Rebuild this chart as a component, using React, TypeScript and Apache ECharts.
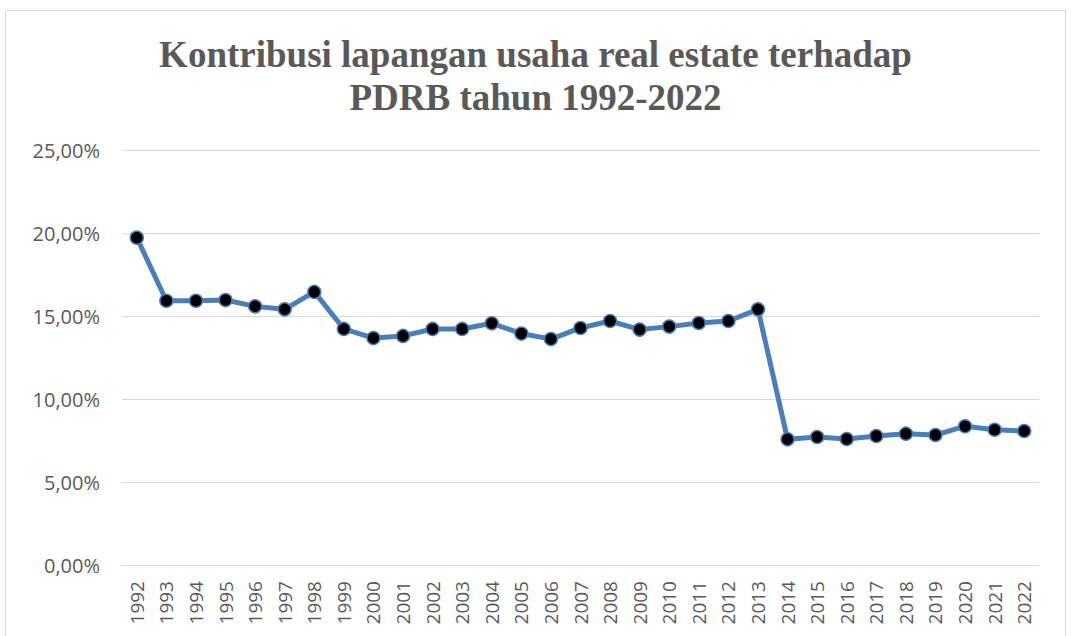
import React, { useEffect, useRef } from "react";
import * as echarts from "echarts";

const years = ["1992","1993","1994","1995","1996","1997","1998","1999","2000","2001","2002","2003","2004","2005","2006","2007","2008","2009","2010","2011","2012","2013","2014","2015","2016","2017","2018","2019","2020","2021","2022"];
const contribution = [19.72,15.92,15.92,15.96,15.58,15.40,16.45,14.22,13.67,13.80,14.22,14.22,14.56,13.94,13.61,14.28,14.70,14.18,14.36,14.58,14.70,15.40,7.57,7.71,7.59,7.77,7.91,7.83,8.36,8.15,8.07];
const titleText = "Kontribusi lapangan usaha real estate terhadap\nPDRB tahun 1992-2022";

export default function App() {
  const ref = useRef<HTMLDivElement>(null);
  useEffect(() => {
    if (!ref.current) return;
    const chart = echarts.init(ref.current, null, { renderer: "svg" });
    chart.setOption({
      animation: false,
      backgroundColor: "#ffffff",
      title: {
        text: titleText,
        left: "center",
        top: 28,
        textStyle: {
          fontFamily: "Liberation Serif",
          fontWeight: "bold",
          fontSize: 37,
          color: "#595959",
          lineHeight: 43,
        },
      },
      graphic: [
        {
          type: "rect",
          shape: { x: 5.5, y: 10.5, width: 1060, height: 640 },
          style: { fill: "none", stroke: "#d9d9d9", lineWidth: 1 },
          silent: true,
        },
      ],
      grid: { left: 122, right: 32, top: 150, bottom: 71 },
      xAxis: {
        type: "category",
        data: years,
        boundaryGap: true,
        axisLine: { show: true, lineStyle: { color: "#d9d9d9", width: 1 } },
        axisTick: { show: false },
        axisLabel: {
          rotate: 90,
          interval: 0,
          margin: 16,
          fontFamily: "Open Sans",
          fontSize: 19,
          color: "#595959",
        },
      },
      yAxis: {
        type: "value",
        min: 0,
        max: 25,
        interval: 5,
        axisLine: { show: false },
        axisTick: { show: false },
        splitLine: { lineStyle: { color: "#d9d9d9", width: 1 } },
        axisLabel: {
          margin: 22,
          fontFamily: "Open Sans",
          fontSize: 20,
          color: "#595959",
          formatter: (v: number) => v.toFixed(2).replace(".", ",") + "%",
        },
      },
      series: [
        {
          type: "line",
          data: contribution,
          symbol: "circle",
          symbolSize: 13,
          lineStyle: { color: "#4a7ebb", width: 5 },
          itemStyle: { color: "#000000", borderColor: "#4a7ebb", borderWidth: 1.5 },
        },
      ],
    });
    return () => chart.dispose();
  }, []);
  return (
    <div
      ref={ref}
      style={{ position: "fixed", left: 0, top: 0, width: 1071, height: 636 }}
    />
  );
}
